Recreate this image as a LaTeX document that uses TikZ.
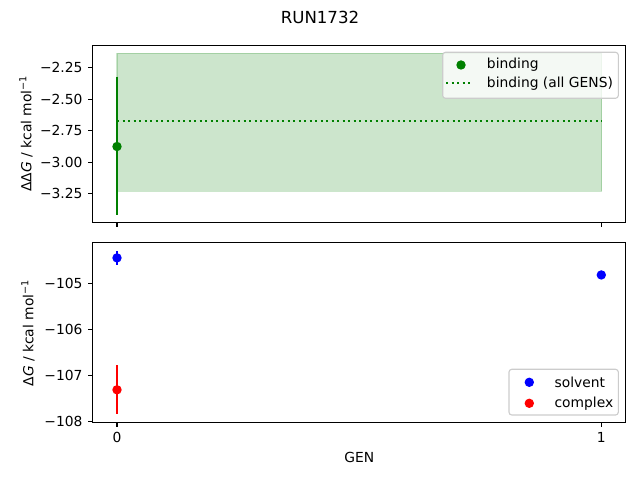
\documentclass[tikz,border=0pt]{standalone}
\usepackage{fontspec}
\setmainfont{DejaVu Sans}
\definecolor{mplgreen}{HTML}{008000}
\definecolor{mplblue}{HTML}{0000FF}
\definecolor{mplred}{HTML}{FF0000}
\definecolor{legframe}{gray}{0.8}
\tikzset{
	ticklab/.style={font=\fontsize{10}{12}\selectfont, inner sep=0pt},
	ebar/.style={line width=1.5pt},
	spine/.style={line width=0.8pt},
	legbox/.style={draw=legframe, line width=0.8pt, fill=white, fill opacity=0.8, rounded corners=2pt},
}

\begin{document}
\begin{tikzpicture}[x=0.01in, y=-0.01in]
			\useasboundingbox (0,0) rectangle (640,480);
			\node[font=\fontsize{12}{14}\selectfont] (title) at (320,17) {RUN1732};

			% top panel, y pixel = -215.8 - 126 v
			\begin{scope}[shift={(117,-215.8)}, x=4.843in, y=1.26in]
				\fill[mplgreen!20] (0,-2.136) rectangle (1,-3.229);
				\draw[mplgreen, opacity=0.2, line width=1pt] (0,-2.136) rectangle (1,-3.229);
				\draw[mplgreen, line width=1.5pt, dash pattern=on 1.5pt off 2.475pt] (0,-2.673) -- (1,-2.673);
				\draw[mplgreen, ebar] (0,-2.32) -- (0,-3.42);
				\fill[mplgreen] (0,-2.874) circle (3.4pt);
			\end{scope}
			\draw[spine] (92.8,45.3) rectangle (625.5,222.4);
			\foreach \v/\t in {-2.25/−2.25, -2.50/−2.50, -2.75/−2.75, -3.00/−3.00, -3.25/−3.25} {
				\draw[spine] (92.8,{-215.8-126*\v}) -- ++(-4.9,0) node[ticklab, anchor=east, xshift=-4.9*0.72pt] (ty\t) {\t};
			}
			\foreach \i in {0,1} {
				\draw[spine] ({117+484.3*\i},222.4) -- ++(0,4.9);
			}
			\node[ticklab, rotate=90] (ylabtop) at (26,133.5) {ΔΔ\textit{G} / kcal mol\textsuperscript{−1}};

			% legend top
			\draw[legbox] (442.7,52.3) rectangle (618.3,98.3);
			\fill[mplgreen] (461,65) circle (3.4pt);
			\node[ticklab, anchor=west] (lbind) at (486.7,65) {binding};
			\draw[mplgreen, line width=1.5pt, dash pattern=on 1.5pt off 2.475pt] (446,83.3) -- (473,83.3);
			\node[ticklab, anchor=west] (lall) at (486.7,83.3) {binding (all GENS)};

			% bottom panel, y pixel = -4560.4 + 46.13 (-v)
			\draw[mplblue, ebar] (117,{-4560.4-46.13*(-104.30)}) -- (117,{-4560.4-46.13*(-104.60)});
			\fill[mplblue] (117,{-4560.4-46.13*(-104.45)}) circle (3.4pt);
			\draw[mplblue, ebar] (601.3,{-4560.4-46.13*(-104.75)}) -- (601.3,{-4560.4-46.13*(-104.89)});
			\fill[mplblue] (601.3,{-4560.4-46.13*(-104.82)}) circle (3.4pt);
			\draw[mplred, ebar] (117,{-4560.4-46.13*(-106.78)}) -- (117,{-4560.4-46.13*(-107.84)});
			\fill[mplred] (117,{-4560.4-46.13*(-107.31)}) circle (3.4pt);
			\draw[spine] (92.8,242.6) rectangle (625.5,422.2);
			\foreach \v/\t in {-105/−105, -106/−106, -107/−107, -108/−108} {
				\draw[spine] (92.8,{-4560.4-46.13*\v}) -- ++(-4.9,0) node[ticklab, anchor=east, xshift=-4.9*0.72pt] (by\t) {\t};
			}
			\foreach \i in {0,1} {
				\draw[spine] ({117+484.3*\i},422.2) -- ++(0,4.9) node[ticklab, anchor=north, yshift=-4.9*0.72pt] (bx\i) {\i};
			}
			\node[ticklab] (xlab) at (359.2,457) {GEN};
			\node[ticklab, rotate=90] (ylabbot) at (28,333) {Δ\textit{G} / kcal mol\textsuperscript{−1}};

			% legend bottom
			\draw[legbox] (509,369.3) rectangle (618.3,415);
			\fill[mplblue] (529.3,382.3) circle (3.4pt);
			\node[ticklab, anchor=west] (lsol) at (554.3,382.3) {solvent};
			\fill[mplred] (529.3,403.3) circle (3.4pt);
			\node[ticklab, anchor=west] (lcom) at (554.3,403.3) {complex};
\end{tikzpicture}
\end{document}
